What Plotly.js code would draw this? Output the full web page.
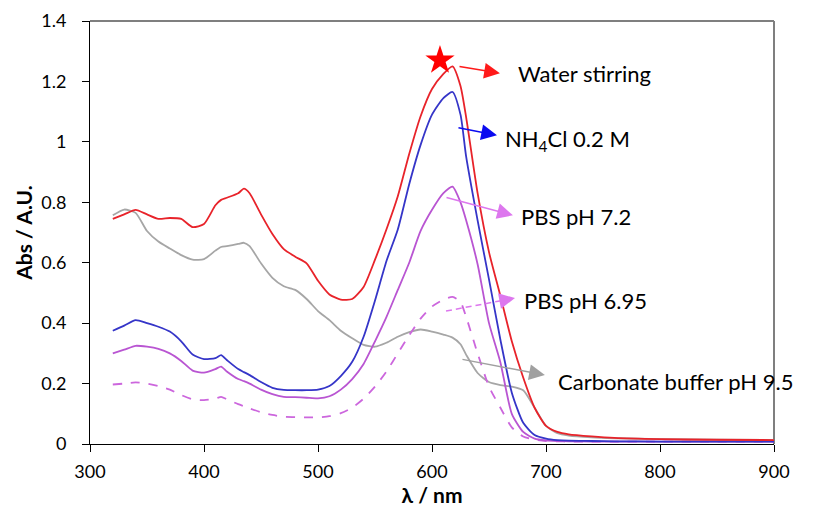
<!DOCTYPE html>
<html>
<head>
<meta charset="utf-8">
<script src="https://cdn.plot.ly/plotly-3.0.1.min.js"></script>
<style>html,body{margin:0;padding:0;background:#fff;}#chart{width:820px;height:508px;}</style>
</head>
<body>
<div id="chart"></div>
<script>
// Wavelength (nm)
const wavelength = [320,330,340,350,360,370,380,390,400,410,415,420,430,435,440,450,460,470,480,490,500,510,520,530,540,550,560,570,580,590,600,610,618,625,630,640,650,660,670,680,690,700,710,720,740,760,800,850,900];

const waterStirring = [0.745,0.760,0.775,0.760,0.745,0.748,0.745,0.718,0.728,0.790,0.808,0.815,0.830,0.845,0.830,0.760,0.695,0.645,0.620,0.598,0.540,0.495,0.478,0.480,0.520,0.610,0.710,0.820,0.960,1.085,1.175,1.225,1.250,1.185,1.080,0.830,0.635,0.490,0.340,0.220,0.120,0.060,0.040,0.032,0.025,0.020,0.016,0.014,0.013];

const nh4cl = [0.375,0.392,0.410,0.400,0.388,0.372,0.340,0.296,0.281,0.284,0.294,0.278,0.248,0.238,0.228,0.205,0.186,0.179,0.178,0.178,0.180,0.192,0.225,0.272,0.355,0.475,0.605,0.710,0.860,0.990,1.090,1.145,1.165,1.090,0.950,0.740,0.545,0.345,0.170,0.070,0.030,0.018,0.013,0.011,0.010,0.009,0.008,0.008,0.008];

const pbs72 = [0.300,0.312,0.325,0.322,0.315,0.300,0.275,0.243,0.236,0.248,0.256,0.240,0.215,0.208,0.200,0.180,0.165,0.156,0.155,0.153,0.151,0.158,0.180,0.215,0.265,0.340,0.420,0.510,0.600,0.705,0.775,0.830,0.852,0.800,0.740,0.595,0.400,0.270,0.100,0.040,0.018,0.012,0.010,0.009,0.008,0.008,0.008,0.008,0.008];

const pbs695 = [0.197,0.200,0.204,0.200,0.192,0.180,0.162,0.148,0.145,0.150,0.156,0.148,0.132,0.125,0.118,0.105,0.096,0.090,0.089,0.088,0.088,0.092,0.102,0.120,0.150,0.190,0.240,0.300,0.360,0.415,0.455,0.478,0.487,0.470,0.420,0.300,0.190,0.120,0.055,0.025,0.014,0.010,0.009,0.008,0.008,0.008,0.008,0.008,0.008];

const carbonate = [0.757,0.776,0.765,0.705,0.670,0.647,0.625,0.610,0.612,0.640,0.652,0.655,0.662,0.666,0.655,0.598,0.550,0.522,0.510,0.480,0.440,0.410,0.375,0.350,0.328,0.322,0.335,0.355,0.370,0.379,0.372,0.362,0.352,0.330,0.295,0.235,0.205,0.195,0.190,0.178,0.120,0.060,0.036,0.028,0.022,0.019,0.016,0.014,0.013];

const starX = [607];
const starY = [1.27];

const seriesNames = ["Water stirring","NH<sub>4</sub>Cl 0.2 M","PBS pH 7.2","PBS pH 6.95","Carbonate buffer pH 9.5"];

const FONT = "Lato, 'Open Sans', 'DejaVu Sans', sans-serif";

const lineShape = {shape:'spline', smoothing:0.6};

const traces = [
  {x: wavelength, y: carbonate, mode:'lines', line:Object.assign({color:'#A6A6A6', width:1.8}, lineShape), name: seriesNames[4]},
  {x: wavelength, y: pbs695, mode:'lines', line:Object.assign({color:'#CC66DD', width:1.8, dash:'dash'}, lineShape), name: seriesNames[3]},
  {x: wavelength, y: pbs72, mode:'lines', line:Object.assign({color:'#B955D2', width:1.8}, lineShape), name: seriesNames[2]},
  {x: wavelength, y: nh4cl, mode:'lines', line:Object.assign({color:'#3535C8', width:1.8}, lineShape), name: seriesNames[1]},
  {x: wavelength, y: waterStirring, mode:'lines', line:Object.assign({color:'#E8232A', width:1.8}, lineShape), name: seriesNames[0]},
  {x: starX, y: starY, mode:'markers', marker:{symbol:'star', size:22, color:'#FF0000', line:{width:0}}, name:'max'}
];

// label placement (tail on curve, tip near text, text anchor)
const labelDefs = [
  {tail:[622.8,1.250], tip:[659.6,1.227], text:[673.5,1.227], color:'#FF1A1A', dashed:false},
  {tail:[621.9,1.048], tip:[657.0,1.022], text:[662.3,1.005], color:'#0A0AF0', dashed:false},
  {tail:[611.4,0.817], tip:[671.0,0.757], text:[676.3,0.754], color:'#DD77EE', dashed:false},
  {tail:[612.3,0.440], tip:[672.8,0.483], text:[679.0,0.476], color:'#DD77EE', dashed:true},
  {tail:[625.4,0.281], tip:[699.0,0.228], text:[708.8,0.208], color:'#A0A0A0', dashed:false}
];

const annotations = [];
const shapes = [
  {type:'line', xref:'paper', yref:'paper', x0:0, x1:1, y0:1, y1:1, line:{color:'#7F7F7F', width:2}, layer:'below'},
  {type:'line', xref:'paper', yref:'paper', x0:1, x1:1, y0:0, y1:1, line:{color:'#7F7F7F', width:2}, layer:'below'}
];

labelDefs.forEach((d, i) => {
  if (d.dashed) {
    const fx = d.tip[0] - (d.tip[0]-d.tail[0])*0.2;
    const fy = d.tip[1] - (d.tip[1]-d.tail[1])*0.2;
    shapes.push({type:'line', xref:'x', yref:'y', x0:d.tail[0], y0:d.tail[1], x1:fx, y1:fy,
      line:{color:d.color, width:1.5, dash:'6px,4px'}});
    annotations.push({x:d.tip[0], y:d.tip[1], xref:'x', yref:'y', axref:'x', ayref:'y',
      ax:fx, ay:fy, text:'', showarrow:true, arrowhead:2, arrowsize:2.1, arrowwidth:1.5, arrowcolor:d.color});
  } else {
    annotations.push({x:d.tip[0], y:d.tip[1], xref:'x', yref:'y', axref:'x', ayref:'y',
      ax:d.tail[0], ay:d.tail[1], text:'', showarrow:true, arrowhead:2, arrowsize:2.1, arrowwidth:1.5, arrowcolor:d.color});
  }
  annotations.push({x:d.text[0], y:d.text[1], xref:'x', yref:'y', text:seriesNames[i], showarrow:false,
    xanchor:'left', yanchor:'middle', font:{family:FONT, size:22, color:'#000'}});
});

const layout = {
  width: 820, height: 508,
  margin: {l:90, r:46, t:21, b:64, pad:0},
  paper_bgcolor:'#fff', plot_bgcolor:'#fff',
  showlegend:false,
  font:{family:FONT, size:18, color:'#000'},
  xaxis:{
    range:[300,900], dtick:100, tick0:300, showgrid:false, zeroline:false,
    showline:true, linecolor:'#000', linewidth:1, ticks:'outside', ticklen:7, tickcolor:'#000', tickwidth:1,
    tickfont:{family:FONT, size:18, color:'#000'}, ticklabelstandoff:4,
    title:{text:'<b>λ / nm</b>', font:{family:FONT, size:21, color:'#000'}, standoff:4}
  },
  yaxis:{
    range:[0,1.4], dtick:0.2, tick0:0, showgrid:false, zeroline:false,
    showline:true, linecolor:'#000', linewidth:1, ticks:'outside', ticklen:7, tickcolor:'#000', tickwidth:1,
    tickfont:{family:FONT, size:18, color:'#000'}, ticklabelstandoff:12,
    title:{text:'<b>Abs / A.U.</b>', font:{family:FONT, size:21, color:'#000'}, standoff:2}
  },
  shapes: shapes,
  annotations: annotations
};

Plotly.newPlot('chart', traces, layout, {staticPlot:true, displayModeBar:false});
</script>
</body>
</html>
